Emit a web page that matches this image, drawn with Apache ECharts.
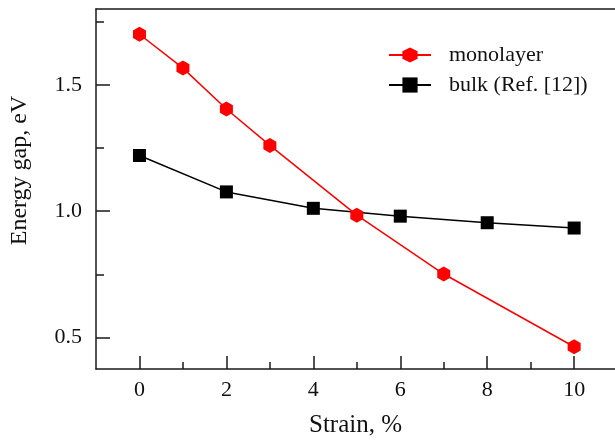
<!DOCTYPE html>
<html>
<head>
<meta charset="utf-8">
<script src="https://cdn.jsdelivr.net/npm/echarts@6/dist/echarts.min.js"></script>
<style>
  html, body { margin: 0; padding: 0; background: #fff; }
  #chart { width: 615px; height: 443px; }
</style>
</head>
<body>
<div id="chart"></div>
<script>
// Band gap versus biaxial strain
const monolayerStrain = [0, 1, 2, 3, 5, 7, 10];
const monolayerGap = [1.70, 1.566, 1.404, 1.26, 0.984, 0.751, 0.463];
const bulkStrain = [0, 2, 4, 6, 8, 10];
const bulkGap = [1.22, 1.076, 1.011, 0.98, 0.954, 0.933];

const xMajorTicks = [0, 2, 4, 6, 8, 10];
const xMinorTicks = [1, 3, 5, 7, 9];
const yMajorTicks = [0.5, 1.0, 1.5];
const yMinorTicks = [0.75, 1.25, 1.75];

const FONT = '"Liberation Serif", "DejaVu Serif", serif';
const AXIS_COLOR = '#1a1a1a';
const HEXAGON = 'path://M0,-1 L0.866,-0.5 L0.866,0.5 L0,1 L-0.866,0.5 L-0.866,-0.5 Z';

const xRange = { min: -1, max: 10.94 };
const yRange = { min: 0.375, max: 1.8 };

const chart = echarts.init(document.getElementById('chart'), null, { renderer: 'canvas' });

const hidden = { show: false };

chart.setOption({
  animation: false,
  backgroundColor: '#fff',
  grid: { left: 96, top: 9, right: 0, bottom: 72, containLabel: false },
  legend: {
    orient: 'vertical',
    left: 388,
    top: 44,
    padding: 0,
    itemWidth: 42,
    itemHeight: 19,
    itemGap: 8,
    textStyle: { fontFamily: FONT, fontSize: 22, color: '#111', padding: [0, 0, 0, 13] },
    data: ['monolayer', 'bulk (Ref. [12])']
  },
  xAxis: [
    {
      type: 'value', ...xRange, position: 'bottom',
      name: 'Strain, %', nameLocation: 'middle', nameGap: 44,
      nameTextStyle: { fontFamily: FONT, fontSize: 25, color: '#111' },
      axisLine: { onZero: false, lineStyle: { color: AXIS_COLOR, width: 1.5 } },
      axisTick: { inside: true, length: 13, customValues: xMajorTicks, lineStyle: { color: AXIS_COLOR, width: 1.5 } },
      axisLabel: { customValues: xMajorTicks, margin: 10, fontFamily: FONT, fontSize: 22, color: '#111' },
      splitLine: hidden
    },
    {
      type: 'value', ...xRange, position: 'bottom',
      axisLine: { show: false, onZero: false },
      axisTick: { inside: true, length: 7, customValues: xMinorTicks, lineStyle: { color: AXIS_COLOR, width: 1.5 } },
      axisLabel: hidden, splitLine: hidden
    },
    {
      type: 'value', ...xRange, position: 'top',
      axisLine: { onZero: false, lineStyle: { color: AXIS_COLOR, width: 1.5 } },
      axisTick: hidden, axisLabel: hidden, splitLine: hidden
    }
  ],
  yAxis: [
    {
      type: 'value', ...yRange, position: 'left',
      name: 'Energy gap, eV', nameLocation: 'middle', nameGap: 64, nameRotate: 90,
      nameTextStyle: { fontFamily: FONT, fontSize: 24, color: '#111', padding: [0, 0, 0, 37] },
      axisLine: { onZero: false, lineStyle: { color: AXIS_COLOR, width: 1.5 } },
      axisTick: { inside: true, length: 14, customValues: yMajorTicks, lineStyle: { color: AXIS_COLOR, width: 1.5 } },
      axisLabel: {
        customValues: yMajorTicks, margin: 14, fontFamily: FONT, fontSize: 22, color: '#111',
        formatter: v => v.toFixed(1)
      },
      splitLine: hidden
    },
    {
      type: 'value', ...yRange, position: 'left',
      axisLine: { show: false, onZero: false },
      axisTick: { inside: true, length: 8, customValues: yMinorTicks, lineStyle: { color: AXIS_COLOR, width: 1.5 } },
      axisLabel: hidden, splitLine: hidden
    }
  ],
  series: [
    {
      name: 'monolayer', type: 'line', xAxisIndex: 0, yAxisIndex: 0,
      data: monolayerStrain.map((s, i) => [s, monolayerGap[i]]),
      symbol: HEXAGON, symbolSize: [13, 15], z: 3,
      itemStyle: { color: '#ff0000' },
      lineStyle: { color: '#ff0000', width: 1.5 }
    },
    {
      name: 'bulk (Ref. [12])', type: 'line', xAxisIndex: 0, yAxisIndex: 0,
      data: bulkStrain.map((s, i) => [s, bulkGap[i]]),
      symbol: 'rect', symbolSize: 13, z: 2,
      itemStyle: { color: '#000' },
      lineStyle: { color: '#000', width: 1.5 }
    }
  ]
});
</script>
</body>
</html>
